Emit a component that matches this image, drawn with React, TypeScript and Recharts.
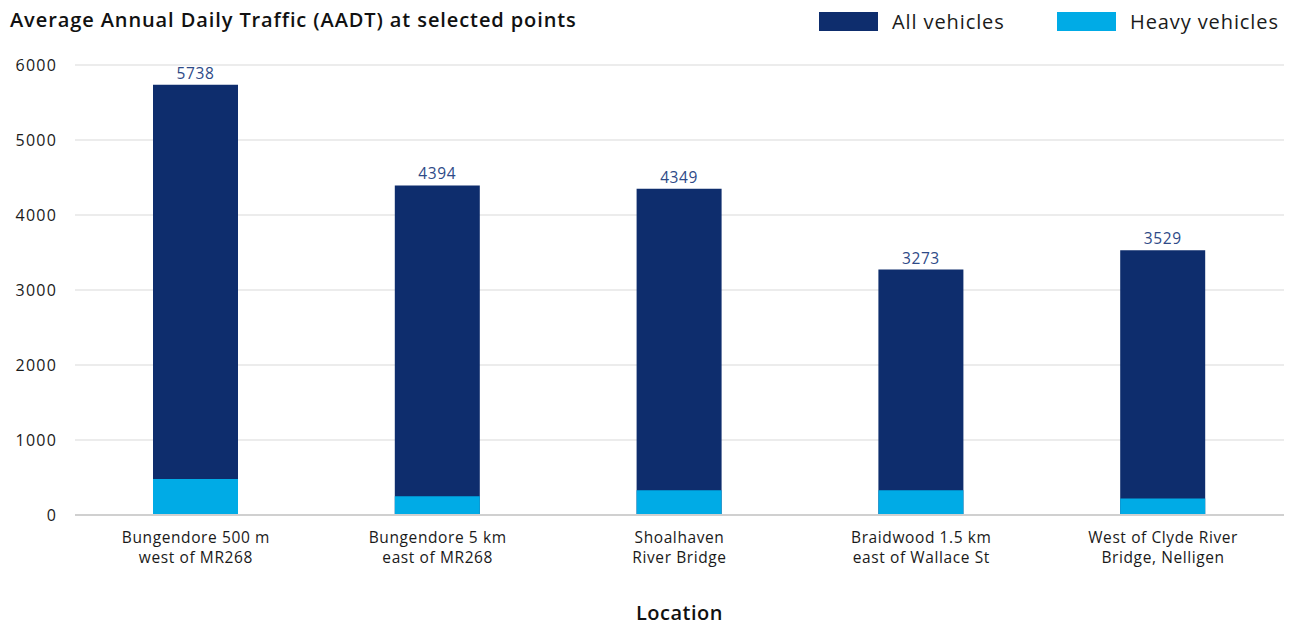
import { BarChart, Bar, XAxis, YAxis, CartesianGrid, LabelList } from 'recharts'

const LOCATIONS = [
  'Bungendore 500 m\nwest of MR268',
  'Bungendore 5 km\neast of MR268',
  'Shoalhaven\nRiver Bridge',
  'Braidwood 1.5 km\neast of Wallace St',
  'West of Clyde River\nBridge, Nelligen',
]
const ALL_VEHICLES = [5738, 4394, 4349, 3273, 3529]
const HEAVY_VEHICLES = [480, 250, 330, 330, 220]
const Y_TICKS = [0, 1000, 2000, 3000, 4000, 5000, 6000]

const NAVY = '#0e2d6d'
const LIGHT = '#00abe6'
const FONT = '"Open Sans", sans-serif'

const data = LOCATIONS.map((loc, i) => ({
  loc,
  all: ALL_VEHICLES[i],
  heavy: HEAVY_VEHICLES[i],
}))

// Two-line category labels, split on the newline in the name
function LocationTick({ x, y, payload }: any) {
  const lines = String(payload.value).split('\n')
  return (
    <text
      x={x}
      y={y}
      textAnchor="middle"
      fill="#1a1a1a"
      fontSize={15.5}
      letterSpacing={0.6}
      fontFamily={FONT}
    >
      {lines.map((line, i) => (
        <tspan key={i} x={x} dy={20}>
          {line}
        </tspan>
      ))}
    </text>
  )
}

const LEGEND = [
  { label: 'All vehicles', color: NAVY, left: 819 },
  { label: 'Heavy vehicles', color: LIGHT, left: 1057 },
]

export default function App() {
  return (
    <div style={{ position: 'absolute', left: 0, top: 0, width: 1296, height: 625, background: '#fff' }}>
      <div
        style={{
          position: 'absolute',
          left: 10,
          top: 6,
          fontFamily: FONT,
          fontWeight: 600,
          fontSize: 20,
          letterSpacing: 0.9,
          color: '#111',
          whiteSpace: 'nowrap',
        }}
      >
        Average Annual Daily Traffic (AADT) at selected points
      </div>
      {LEGEND.map((it) => (
        <div
          key={it.label}
          style={{
            position: 'absolute',
            left: it.left,
            top: 8,
            display: 'flex',
            alignItems: 'center',
            fontFamily: FONT,
            fontSize: 20,
            letterSpacing: 0.9,
            color: '#1a1a1a',
            whiteSpace: 'nowrap',
          }}
        >
          <span style={{ width: 59, height: 19, background: it.color, marginRight: 14 }} />
          <span>{it.label}</span>
        </div>
      ))}
      <BarChart
        width={1296}
        height={625}
        data={data}
        margin={{ top: 65, right: 12, bottom: 0, left: 0 }}
        barGap={-85}
        barSize={85}
      >
        <CartesianGrid vertical={false} stroke="#d9d9d9" />
        <XAxis
          dataKey="loc"
          tick={<LocationTick />}
          tickLine={false}
          axisLine={{ stroke: '#d0d0d0', strokeWidth: 2 }}
          height={110}
          interval={0}
          label={{
            value: 'Location',
            position: 'insideBottom',
            offset: 5,
            fontFamily: FONT,
            fontWeight: 600,
            fontSize: 20,
            letterSpacing: 0.5,
            fill: '#111',
          }}
        />
        <YAxis
          width={75}
          domain={[0, 6000]}
          ticks={Y_TICKS}
          tickLine={false}
          axisLine={false}
          tick={{ fontSize: 16, fill: '#1a1a1a', fontFamily: FONT, letterSpacing: 1.2 }}
          tickMargin={12}
        />
        <Bar dataKey="all" name="All vehicles" fill={NAVY} isAnimationActive={false}>
          <LabelList
            dataKey="all"
            position="top"
            offset={6}
            fill="#2e4a87"
            fontSize={15.5}
            letterSpacing={0.6}
            fontFamily={FONT}
          />
        </Bar>
        <Bar dataKey="heavy" name="Heavy vehicles" fill={LIGHT} isAnimationActive={false} />
      </BarChart>
    </div>
  )
}
